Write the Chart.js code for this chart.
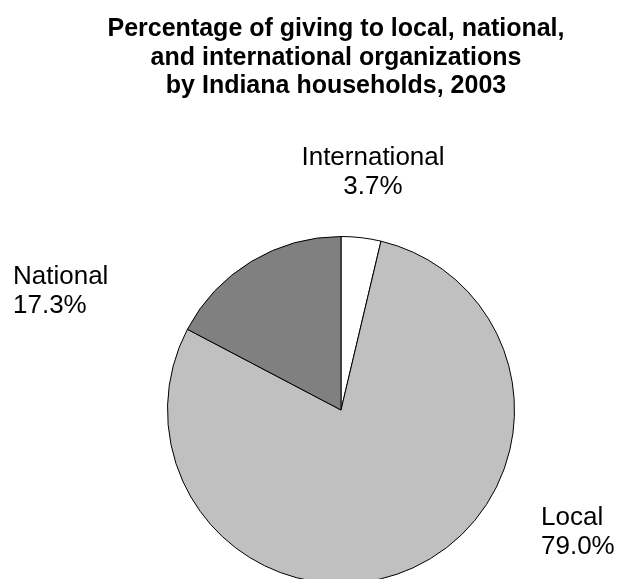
<!DOCTYPE html>
<html>
<head>
<meta charset="utf-8">
<script src="https://cdn.jsdelivr.net/npm/chart.js@4"></script>
<style>
  html, body { margin: 0; padding: 0; background: #fff; overflow: hidden; }
</style>
</head>
<body>
<canvas id="givingPie" width="620" height="600"></canvas>
<script>
const categories = ['International', 'Local', 'National'];
const shares = [3.7, 79.0, 17.3];
const sliceColors = ['#ffffff', '#c0c0c0', '#808080'];
const titleLines = [
    'Percentage of giving to local, national,',
    'and international organizations',
    'by Indiana households, 2003'
];

// caption anchors per slice: x, baseline of first line, alignment
const captionSpots = [
    [373, 165, 'center'],
    [541, 525, 'left'],
    [13, 284, 'left']
];

const textPlugin = {
    id: 'pieText',
    afterDraw(chart) {
        const ctx = chart.ctx;
        ctx.save();
        ctx.fillStyle = '#000';
        ctx.textBaseline = 'alphabetic';

        ctx.font = 'bold 25px "Liberation Sans", Arial, sans-serif';
        ctx.textAlign = 'center';
        titleLines.forEach((line, i) => ctx.fillText(line, 336, 36 + i * 28.5));

        ctx.font = '26px "Liberation Sans", Arial, sans-serif';
        categories.forEach((name, i) => {
            const [x, y, align] = captionSpots[i];
            ctx.textAlign = align;
            ctx.fillText(name, x, y);
            ctx.fillText(shares[i].toFixed(1) + '%', x, y + 29);
        });
        ctx.restore();
    }
};

const pie_ctx = document.getElementById('givingPie');
new Chart(pie_ctx, {
    type: 'pie',
    data: {
        labels: categories,
        datasets: [{
            data: shares,
            backgroundColor: sliceColors,
            borderColor: '#000',
            borderWidth: 1
        }]
    },
    options: {
        responsive: false,
        animation: false,
        layout: { padding: { left: 167, right: 105, top: 236, bottom: 16 } },
        plugins: {
            legend: { display: false },
            tooltip: { enabled: false },
            title: { display: false }
        }
    },
    plugins: [textPlugin]
});
</script>
</body>
</html>
